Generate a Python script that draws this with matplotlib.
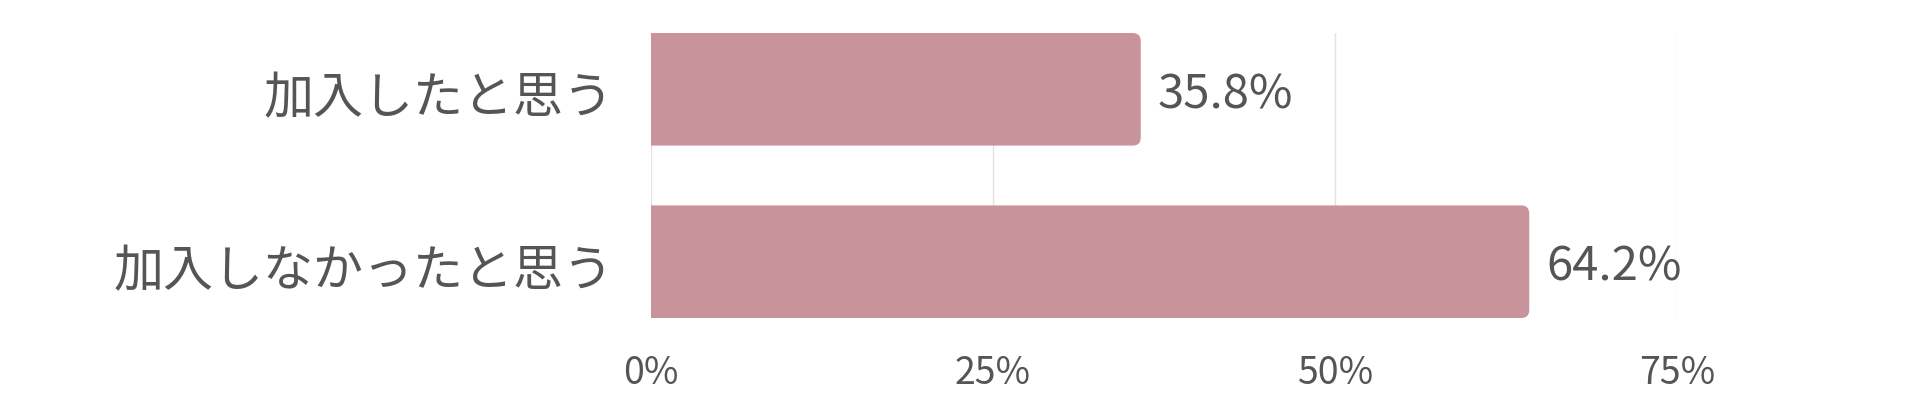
import matplotlib
matplotlib.use("Agg")
import matplotlib.pyplot as plt
import matplotlib.transforms as mtransforms
from matplotlib.patches import PathPatch
from matplotlib.path import Path

plt.rcParams['font.family'] = ['Noto Sans CJK JP', 'DejaVu Sans']

categories = ["加入したと思う", "加入しなかったと思う"]
values = [35.8, 64.2]
value_labels = ["35.8%", "64.2%"]
xticks = [0, 25, 50, 75]
xtick_labels = ["0%", "25%", "50%", "75%"]

bar_color = "#C9939B"
text_color = "#555555"
grid_color = "#E3E3E3"

fig = plt.figure(figsize=(19.2, 4.09), dpi=100)
ax = fig.add_axes([651/1920, 1 - 318/409, (1677 - 651)/1920, (318 - 33)/409])

bh = 0.653
ypos = list(range(len(categories)))
bars = ax.barh(ypos, values, height=bh, color=bar_color, zorder=2)

ax.set_xlim(0, 75)
ax.set_ylim(len(categories) - 1 + bh/2, -bh/2)

# rounded right corners
fig.canvas.draw()
px_per_x = ax.bbox.width / 75
px_per_y = ax.bbox.height / (len(categories) - 1 + bh)
r_px = 8
rx = r_px / px_per_x
ry = r_px / px_per_y
for b in bars:
    x, y, w, h = b.get_x(), b.get_y(), b.get_width(), b.get_height()
    b.set_visible(False)
    verts = [(x, y), (x + w - rx, y), (x + w, y), (x + w, y + ry),
             (x + w, y + h - ry), (x + w, y + h), (x + w - rx, y + h),
             (x, y + h), (x, y)]
    codes = [Path.MOVETO, Path.LINETO, Path.CURVE3, Path.CURVE3,
             Path.LINETO, Path.CURVE3, Path.CURVE3, Path.LINETO, Path.CLOSEPOLY]
    ax.add_patch(PathPatch(Path(verts, codes), facecolor=bar_color,
                           edgecolor="none", linewidth=0, zorder=2))

for yv, v, lab in zip(ypos, values, value_labels):
    ax.annotate(lab, (v, yv), xytext=(12, -4), textcoords="offset points",
                va="center", ha="left", fontsize=34, color=text_color)

ax.set_yticks(ypos)
ax.set_yticklabels(categories, fontsize=36, color=text_color)
ax.set_xticks(xticks)
ax.set_xticklabels(xtick_labels, fontsize=27, color=text_color)
ax.tick_params(axis='y', length=0, pad=27)
ax.tick_params(axis='x', length=0, pad=26)
shift = mtransforms.ScaledTranslation(0, -3/72, fig.dpi_scale_trans)
for lbl in ax.get_yticklabels():
    lbl.set_transform(lbl.get_transform() + shift)
for s in ax.spines.values():
    s.set_visible(False)
ax.grid(axis='x', color=grid_color, linewidth=1, zorder=0)
ax.set_axisbelow(True)

fig.savefig("out.png", dpi=100, facecolor="white")
